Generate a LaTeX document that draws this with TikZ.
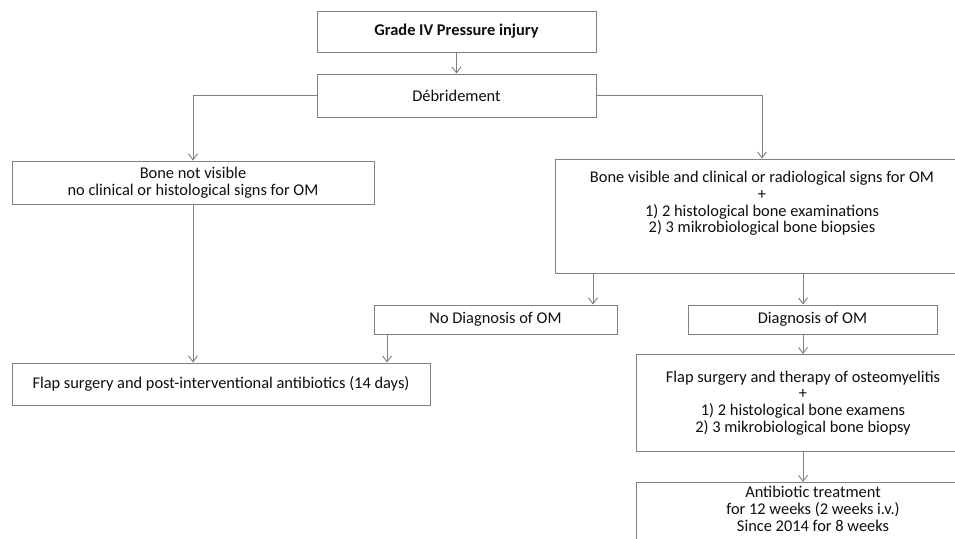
\documentclass[tikz,border=0pt]{standalone}
\usepackage{fontspec}
\setmainfont{Carlito}
\usetikzlibrary{arrows.meta}
\definecolor{linegray}{RGB}{128,128,128}
\definecolor{txtgray}{RGB}{15,15,15}
\tikzset{
  box/.style={draw=linegray, line width=0.9pt, fill=white, inner sep=0pt,
    text=txtgray, align=center, font=\fontsize{16.4}{16.6}\selectfont},
  boxtext/.style={inner sep=0pt, text=txtgray, align=center,
    font=\fontsize{16.4}{16.8}\selectfont},
  arr/.style={draw=linegray, line width=0.9pt,
    -{Straight Barb[length=6pt,width=9pt]}},
}
\begin{document}
\begin{tikzpicture}[x=1pt,y=-1pt]
  \useasboundingbox (0,0) rectangle (955,538);
  \clip (0,0) rectangle (955,538);
  \fill[white] (0,0) rectangle (955,538);

  % top
  \node[box, minimum width=279, minimum height=41] (g4) at (456.5,31.5)
    {\bfseries Grade IV Pressure injury};
  \node[box, minimum width=279, minimum height=43] (deb) at (456.5,95.5)
    {Débridement};

  % left branch
  \node[box, minimum width=362, minimum height=43] (bnv) at (193,182.5)
    {Bone not visible\\no clinical or histological signs for OM};
  \node[box, minimum width=418, minimum height=42] (flap1) at (221,384)
    {Flap surgery and post-interventional antibiotics (14 days)};

  % right branch
  \node[box, minimum width=414, minimum height=114] (bvis) at (762,216) {};
  \node[boxtext, anchor=north] (bvis-txt) at (762,171)
    {Bone visible and clinical or radiological signs for OM\\+\\
     1) 2 histological bone examinations\\2) 3 mikrobiological bone biopsies};
  \node[box, minimum width=243, minimum height=29] (nodiag) at (495.5,319.5)
    {No Diagnosis of OM};
  \node[box, minimum width=249, minimum height=29] (diag) at (812.5,319.5)
    {Diagnosis of OM};
  \node[box, minimum width=334, minimum height=97] (fther) at (803,403)
    {Flap surgery and therapy of osteomyelitis\\+\\
     1) 2 histological bone examens\\2) 3 mikrobiological bone biopsy};
  \node[box, minimum width=334, minimum height=100, anchor=north] (anti) at (803,482) {};
  \node[boxtext, anchor=north] (anti-txt) at (813,486)
    {Antibiotic treatment\\for 12 weeks (2 weeks i.v.)\\Since 2014 for 8 weeks};

  % connectors
  \coordinate (nd-x) at (593,0);
  \coordinate (ax) at (803,0);
  \coordinate (fl-x) at (387,0);
  \draw[arr] (g4) -- (deb);
  \draw[arr] (deb.west) -| (bnv.north);
  \draw[arr] (deb.east) -| (bvis.north);
  \draw[arr] (bnv.south) -- (bnv.south |- flap1.north);
  \draw[arr] (bvis.south -| nd-x) -- (nodiag.north -| nd-x);
  \draw[arr] (bvis.south -| ax) -- (diag.north -| ax);
  \draw[arr] (nodiag.south -| fl-x) -- (flap1.north -| fl-x);
  \draw[arr] (diag.south -| ax) -- (fther.north);
  \draw[arr] (fther) -- (anti);
\end{tikzpicture}
\end{document}
